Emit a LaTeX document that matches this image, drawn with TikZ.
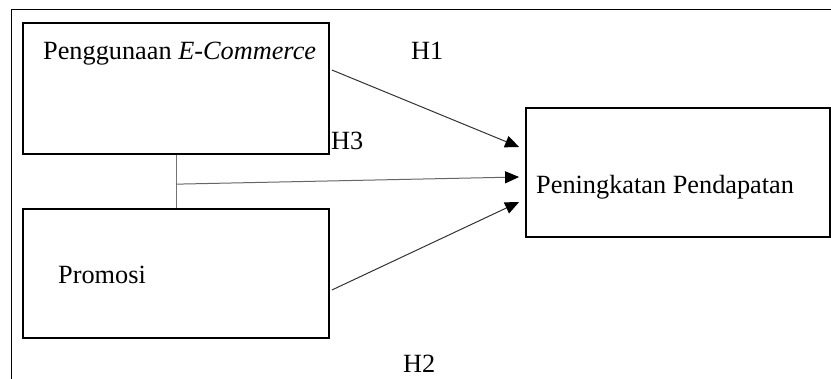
\documentclass[tikz,border=0pt]{standalone}
\usepackage{fontspec}
\setmainfont{Liberation Serif}
\usetikzlibrary{calc, arrows.meta}

\tikzset{
    varbox/.style={draw, line width=1.8pt, inner sep=0pt},
    arrowline/.style={line width=1pt, draw=black!80, -{Triangle[length=14pt, width=12pt, black]}},
    lbl/.style={anchor=base west, inner sep=0pt, font=\fontsize{26.3}{31}\selectfont}
}

\begin{document}
\begin{tikzpicture}[x=1pt, y=1pt]
    \useasboundingbox (0,0) rectangle (831,-379);
    \draw[line width=1pt] (11,-379) |- (831,-10);

    \node[varbox, minimum width=306pt, minimum height=131pt] (ecom) at (176,-88.5) {};
    \node[varbox, minimum width=306pt, minimum height=129pt] (promo) at (176,-273.5) {};
    \node[varbox, minimum width=304pt, minimum height=129pt] (income) at (678,-172.5) {};

    \node[lbl] (ecomtxt) at (43,-60) {Penggunaan \textit{E-Commerce}};
    \node[lbl] (promotxt) at (58,-284) {Promosi};
    \node[lbl] (incometxt) at (536,-194) {Peningkatan Pendapatan};

    \coordinate (join) at ($(ecom.south)!0.55!(promo.north)$);
    \draw[line width=1pt, black!55] (ecom.south) -- (promo.north);

    \draw[arrowline] ($(ecom.east)+(2,18.5)$) -- ($(income.west)+(-6,25.5)$);
    \draw[arrowline, draw=black!60] (join) -- ($(income.west)+(-6,-4.5)$);
    \draw[arrowline] ($(promo.east)+(2,-16.5)$) -- ($(income.west)+(-6,-29.5)$);

    \node[lbl] (hone) at (411,-60) {H1};
    \node[lbl] (hthree) at (331,-150) {H3};
    \node[lbl] (htwo) at (403,-373) {H2};
\end{tikzpicture}
\end{document}
